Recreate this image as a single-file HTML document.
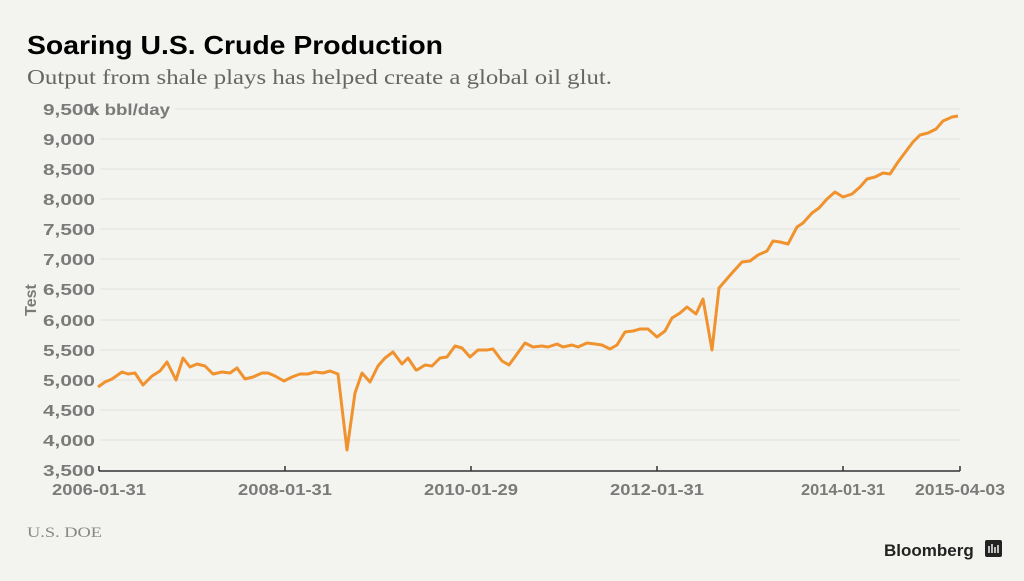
<!DOCTYPE html>
<html><head><meta charset="utf-8"><style>
body{margin:0;background:#f3f3ef;}
svg{display:block}
</style></head><body>
<svg width="1024" height="581" viewBox="0 0 1024 581" xmlns="http://www.w3.org/2000/svg">
<rect width="1024" height="581" fill="#f3f3ef"/>
<text x="27" y="54" font-family="Liberation Sans, sans-serif" font-weight="bold" font-size="26" fill="#000" textLength="416" lengthAdjust="spacingAndGlyphs">Soaring U.S. Crude Production</text>
<text x="27" y="84" font-family="Liberation Serif, serif" font-size="21" fill="#666" textLength="585" lengthAdjust="spacingAndGlyphs">Output from shale plays has helped create a global oil glut.</text>
<g stroke="#e2e2de" stroke-width="1">
<line x1="175" y1="109" x2="960" y2="109"/>
<line x1="100" y1="139" x2="960" y2="139"/>
<line x1="100" y1="169" x2="960" y2="169"/>
<line x1="100" y1="199" x2="960" y2="199"/>
<line x1="100" y1="229" x2="960" y2="229"/>
<line x1="100" y1="259" x2="960" y2="259"/>
<line x1="100" y1="289" x2="960" y2="289"/>
<line x1="100" y1="320" x2="960" y2="320"/>
<line x1="100" y1="350" x2="960" y2="350"/>
<line x1="100" y1="380" x2="960" y2="380"/>
<line x1="100" y1="410" x2="960" y2="410"/>
<line x1="100" y1="440" x2="960" y2="440"/>
</g>
<g font-family="Liberation Sans, sans-serif" font-weight="bold" font-size="16" fill="#7a7a7a" text-anchor="end">
<text x="95" y="115" textLength="52" lengthAdjust="spacingAndGlyphs">9,500</text>
<text x="95" y="145" textLength="52" lengthAdjust="spacingAndGlyphs">9,000</text>
<text x="95" y="175" textLength="52" lengthAdjust="spacingAndGlyphs">8,500</text>
<text x="95" y="205" textLength="52" lengthAdjust="spacingAndGlyphs">8,000</text>
<text x="95" y="235" textLength="52" lengthAdjust="spacingAndGlyphs">7,500</text>
<text x="95" y="265" textLength="52" lengthAdjust="spacingAndGlyphs">7,000</text>
<text x="95" y="295" textLength="52" lengthAdjust="spacingAndGlyphs">6,500</text>
<text x="95" y="326" textLength="52" lengthAdjust="spacingAndGlyphs">6,000</text>
<text x="95" y="356" textLength="52" lengthAdjust="spacingAndGlyphs">5,500</text>
<text x="95" y="386" textLength="52" lengthAdjust="spacingAndGlyphs">5,000</text>
<text x="95" y="416" textLength="52" lengthAdjust="spacingAndGlyphs">4,500</text>
<text x="95" y="446" textLength="52" lengthAdjust="spacingAndGlyphs">4,000</text>
<text x="95" y="476" textLength="52" lengthAdjust="spacingAndGlyphs">3,500</text>
</g>
<text x="89" y="115" font-family="Liberation Sans, sans-serif" font-weight="bold" font-size="16" fill="#7a7a7a" textLength="81" lengthAdjust="spacingAndGlyphs">k bbl/day</text>
<text transform="translate(36,300) rotate(-90)" text-anchor="middle" font-family="Liberation Sans, sans-serif" font-weight="bold" font-size="16" fill="#7a7a7a">Test</text>
<line x1="99" y1="471" x2="960" y2="471" stroke="#333" stroke-width="1.5"/>
<g stroke="#333" stroke-width="1.5">
<line x1="99" y1="466" x2="99" y2="471"/><line x1="285" y1="466" x2="285" y2="471"/><line x1="471" y1="466" x2="471" y2="471"/><line x1="657" y1="466" x2="657" y2="471"/><line x1="843" y1="466" x2="843" y2="471"/><line x1="960" y1="466" x2="960" y2="471"/>
</g>
<g font-family="Liberation Sans, sans-serif" font-weight="bold" font-size="16" fill="#7a7a7a" text-anchor="middle">
<text x="99" y="495" textLength="94" lengthAdjust="spacingAndGlyphs">2006-01-31</text>
<text x="285" y="495" textLength="94" lengthAdjust="spacingAndGlyphs">2008-01-31</text>
<text x="471" y="495" textLength="94" lengthAdjust="spacingAndGlyphs">2010-01-29</text>
<text x="657" y="495" textLength="94" lengthAdjust="spacingAndGlyphs">2012-01-31</text>
<text x="843" y="495" textLength="84" lengthAdjust="spacingAndGlyphs">2014-01-31</text>
<text x="960" y="495" textLength="90" lengthAdjust="spacingAndGlyphs">2015-04-03</text>
</g>
<polyline fill="none" stroke="#f0922e" stroke-width="3" stroke-linejoin="round" points="98,387 105,382 112,379 122,372 128,374 135,373 143,385 152,376 160,371 167,362 176,380 183,358 190,367 197,364 205,366 213,374 222,372 230,373 237,368 245,379 253,377 262,373 268,373 275,376 284,381 292,377 300,374 308,374 315,372 323,373 330,371 338,374 347,450 355,393 362,373 370,382 378,366 385,358 393,352 402,364 408,358 416,370 417,370 425,365 432,366 440,358 447,357 455,346 462,348 470,357 478,350 487,350 493,349 502,361 509,365 517,354 525,343 533,347 542,346 548,347 557,344 563,347 572,345 578,347 587,343 595,344 602,345 610,349 617,345 625,332 633,331 640,329 648,329 657,337 665,331 672,318 680,313 687,307 696,314 703,299 712,350 719,288 732,273 742,262 750,261 758,255 767,251 773,241 780,242 788,244 797,227 803,223 812,213 819,208 827,199 835,192 843,197 852,194 860,187 867,179 875,177 883,173 890,174 898,162 907,150 913,142 920,135 928,133 936,129 943,121 952,117 958,116"/>
<text x="27" y="537" font-family="Liberation Serif, serif" font-size="15" fill="#888" textLength="75" lengthAdjust="spacingAndGlyphs">U.S. DOE</text>
<text x="884" y="556" font-family="Liberation Sans, sans-serif" font-weight="bold" font-size="17" fill="#222">Bloomberg</text>
<rect x="985" y="540" width="17" height="17" rx="2" fill="#222"/>
<g stroke="#f3f3ef" stroke-width="1.5"><line x1="989" y1="546" x2="989" y2="553"/><line x1="992" y1="544" x2="992" y2="553"/><line x1="995" y1="547" x2="995" y2="553"/><line x1="998" y1="545" x2="998" y2="553"/></g>
</svg>
</body></html>
